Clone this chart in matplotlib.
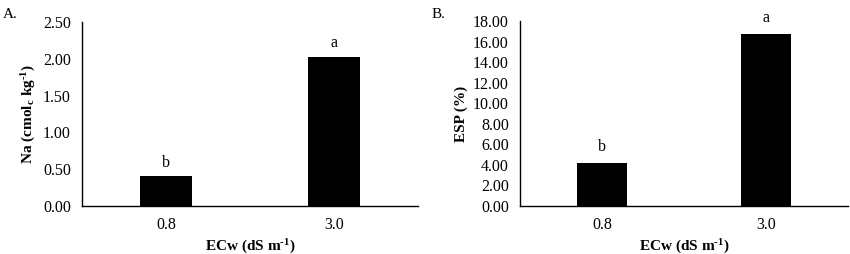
import matplotlib
matplotlib.use('Agg')
import matplotlib.pyplot as plt

# data
categories = ['0.8', '3.0']
na_values = [0.41, 2.03]
esp_values = [4.18, 16.70]
na_letters = ['b', 'a']
esp_letters = ['b', 'a']
na_ticks = [0.0, 0.5, 1.0, 1.5, 2.0, 2.5]
esp_ticks = [0, 2, 4, 6, 8, 10, 12, 14, 16, 18]

plt.rcParams['font.family'] = ['Liberation Serif', 'DejaVu Serif']
plt.rcParams['mathtext.fontset'] = 'custom'
plt.rcParams['mathtext.rm'] = 'Liberation Serif:bold'
plt.rcParams['mathtext.bf'] = 'Liberation Serif:bold'
plt.rcParams['mathtext.it'] = 'Liberation Serif:bold:italic'

fig = plt.figure(figsize=(8.5, 2.54), dpi=100)
W, H = 850, 254


def make_axes(x0, x1, y_top, y_bot):
    return fig.add_axes([x0 / W, 1 - y_bot / H, (x1 - x0) / W, (y_bot - y_top) / H])


def draw_panel(ax, values, letters, ticks, ylabel, offset, fmt='{:.2f}'):
    x = range(len(categories))
    ax.bar(x, values, width=0.31, color='black')
    ax.set_xlim(-0.5, 1.5)
    ax.set_ylim(ticks[0], ticks[-1])
    ax.set_yticks(ticks)
    ax.set_yticklabels([fmt.format(t) for t in ticks])
    ax.set_xticks(list(x))
    ax.set_xticklabels(categories)
    ax.tick_params(length=0, labelsize=11.5, pad=8)
    ax.tick_params(axis='y', pad=8)
    for s in ['top', 'right']:
        ax.spines[s].set_visible(False)
    for s in ['left', 'bottom']:
        ax.spines[s].set_linewidth(1.0)
        ax.spines[s].set_color('black')
    for xi, v, l in zip(x, values, letters):
        ax.text(xi, v + offset, l, ha='center', va='bottom', fontsize=11.5)
    ax.set_ylabel(ylabel, fontsize=11, fontweight='bold')
    ax.set_xlabel(r'$\mathbf{ECw\ (dS\ m^{\text{-1}})}$', fontsize=11, labelpad=3)


ax1 = make_axes(82, 418, 22, 206)
draw_panel(ax1, na_values, na_letters, na_ticks,
           r'$\mathbf{Na\ (cmol_c\ kg^{\text{-1}})}$', 0.07)
ax1.yaxis.set_label_coords(-0.131, 0.5)

ax2 = make_axes(520, 848, 21, 206)
draw_panel(ax2, esp_values, esp_letters, esp_ticks, 'ESP (%)', 0.8)
ax2.yaxis.set_label_coords(-0.159, 0.5)

fig.text(3 / W, 1 - 15 / H, 'A.', fontsize=11, va='center')
fig.text(432 / W, 1 - 15 / H, 'B.', fontsize=11, va='center')

fig.savefig('out.png', dpi=100)
